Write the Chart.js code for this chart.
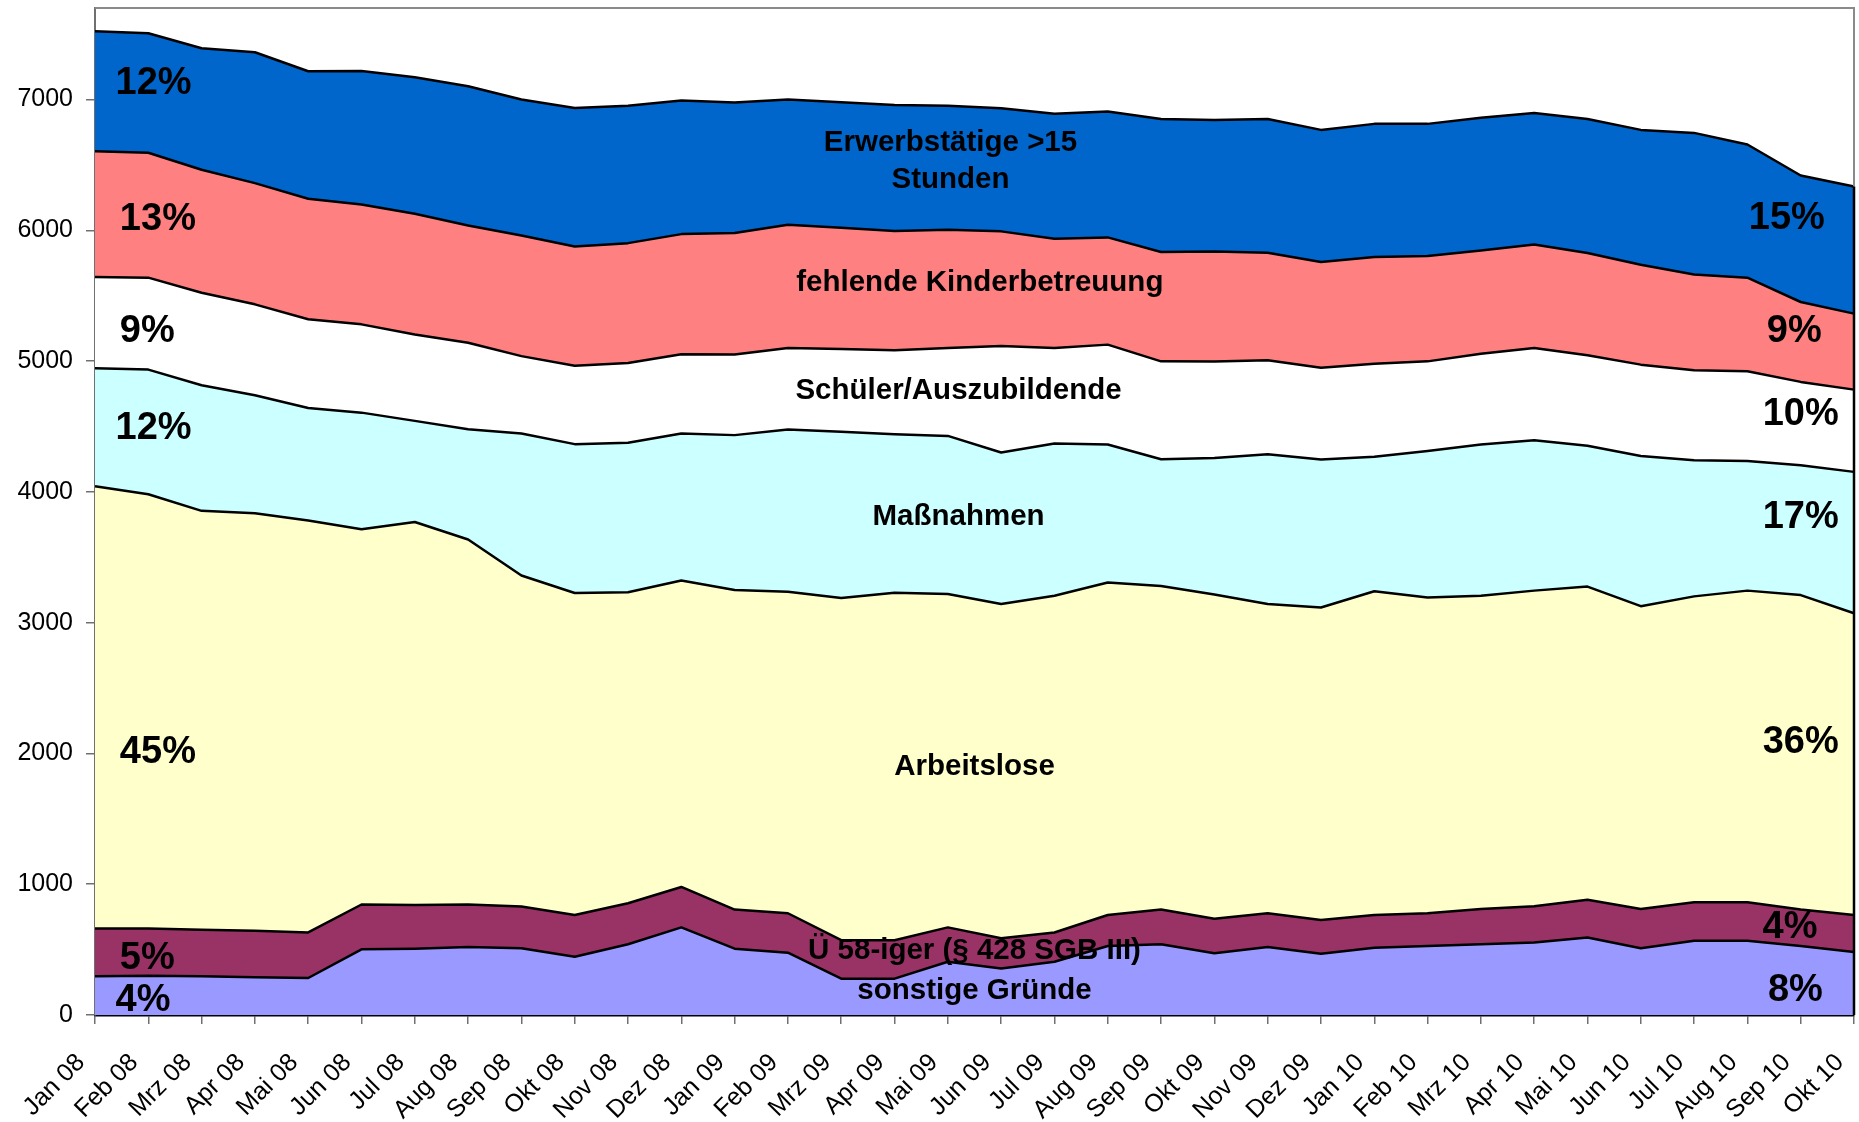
<!DOCTYPE html>
<html>
<head>
<meta charset="utf-8">
<script src="https://cdn.jsdelivr.net/npm/chart.js@4"></script>
<style>
  html, body { margin:0; padding:0; background:#fff; }
  #chart { display:block; }
</style>
</head>
<body>
<canvas id="chart" width="1859" height="1122"></canvas>
<script>
const months = ['Jan 08','Feb 08','Mrz 08','Apr 08','Mai 08','Jun 08','Jul 08','Aug 08','Sep 08','Okt 08','Nov 08','Dez 08',
  'Jan 09','Feb 09','Mrz 09','Apr 09','Mai 09','Jun 09','Jul 09','Aug 09','Sep 09','Okt 09','Nov 09','Dez 09',
  'Jan 10','Feb 10','Mrz 10','Apr 10','Mai 10','Jun 10','Jul 10','Aug 10','Sep 10','Okt 10'];

// values per group, bottom to top of the stack
const sonstige    = [296,301,296,288,283,502,507,520,510,446,541,670,507,476,278,278,407,355,407,528,541,472,520,469,515,528,541,554,592,510,567,567,528,482];
const ue58        = [366,361,356,356,348,343,335,325,319,319,314,309,299,302,294,294,263,232,224,237,265,264,258,257,250,250,270,278,289,301,296,296,278,283];
const arbeitslose = [3381,3320,3203,3193,3150,2869,2928,2791,2532,2462,2377,2343,2444,2459,2616,2657,2549,2555,2575,2542,2475,2480,2364,2390,2475,2415,2395,2413,2395,2315,2338,2382,2405,2307];
const massnahmen  = [902,953,960,902,861,892,773,843,1085,1138,1143,1124,1184,1240,1271,1212,1209,1159,1164,1055,969,1044,1146,1131,1028,1120,1156,1150,1076,1149,1041,992,993,1081];
const schueler    = [698,703,708,695,678,675,661,661,592,599,611,606,616,623,634,642,672,814,730,764,748,737,718,703,712,685,695,705,692,698,688,685,637,629];
const kinder      = [962,955,940,927,921,917,923,897,923,913,916,919,929,943,927,911,904,877,836,820,836,841,823,807,816,805,789,792,782,764,733,716,611,581];
const erwerb      = [917,914,929,1001,975,1021,1043,1065,1039,1059,1050,1021,998,957,960,965,948,942,955,962,1018,1005,1023,1011,1018,1011,1014,1006,1026,1031,1082,1018,967,972];

const seriesNames = ['sonstige Gründe','Ü 58-iger (§ 428 SGB III)','Arbeitslose','Maßnahmen','Schüler/Auszubildende','fehlende Kinderbetreuung','Erwerbstätige >15 Stunden'];
const seriesColors = ['#9999FF','#993366','#FFFFCC','#CCFFFF','#FFFFFF','#FF8080','#0066CC'];
const pctStart = ['4%','5%','45%','12%','9%','13%','12%'];
const pctEnd   = ['8%','4%','36%','17%','10%','9%','15%'];
const yTicks = [0,1000,2000,3000,4000,5000,6000,7000];

// text placed in the areas, in axis units (category index, value)
const nameLabels = [
  {t:'sonstige Gründe', x:16.5, y:186},
  {t:'Ü 58-iger (§ 428 SGB III)', x:16.5, y:489},
  {t:'Arbeitslose', x:16.5, y:1894},
  {t:'Maßnahmen', x:16.2, y:3811},
  {t:'Schüler/Auszubildende', x:16.2, y:4773},
  {t:'fehlende Kinderbetreuung', x:16.6, y:5602},
  {t:'Erwerbstätige >15', x:16.05, y:6672},
  {t:'Stunden', x:16.05, y:6389}
];
const pctPosStart = [{x:0.9,y:109},{x:0.98,y:430},{x:1.18,y:2010},{x:1.1,y:4485},{x:0.98,y:5227},{x:1.18,y:6083},{x:1.1,y:7122}];
const pctPosEnd   = [{x:31.9,y:190},{x:31.8,y:672},{x:32.0,y:2081},{x:32.0,y:3807},{x:32.0,y:4594},{x:31.88,y:5227},{x:31.74,y:6090}];

const stackData = [sonstige,ue58,arbeitslose,massnahmen,schueler,kinder,erwerb];
const datasets = stackData.map((d,i)=>({
  label: seriesNames[i],
  data: d,
  backgroundColor: seriesColors[i],
  borderColor: '#000',
  borderWidth: 2.5,
  pointRadius: 0,
  tension: 0,
  fill: i===0 ? 'origin' : '-1'
}));

const textPlugin = {
  id: 'areaText',
  afterDatasetsDraw(chart){
    const {ctx, chartArea:a, scales:{x,y}} = chart;
    const last = months.length - 1;
    const topLast = y.getPixelForValue(stackData.reduce((t,d)=>t+d[last],0));
    ctx.save();
    // plot frame: grey above the areas, black along the filled edge
    ctx.strokeStyle = '#8a8a8a'; ctx.lineWidth = 2;
    ctx.beginPath(); ctx.moveTo(a.left, a.top); ctx.lineTo(a.right, a.top); ctx.lineTo(a.right, topLast); ctx.stroke();
    ctx.strokeStyle = '#000'; ctx.lineWidth = 2.5;
    ctx.beginPath(); ctx.moveTo(a.right, topLast); ctx.lineTo(a.right, a.bottom); ctx.stroke();
    ctx.fillStyle = '#000';
    ctx.textAlign = 'center'; ctx.textBaseline = 'middle';
    ctx.font = 'bold 29.5px "Liberation Sans", Arial, sans-serif';
    nameLabels.forEach(l => ctx.fillText(l.t, x.getPixelForValue(l.x), y.getPixelForValue(l.y)));
    ctx.font = 'bold 38px "Liberation Sans", Arial, sans-serif';
    pctStart.forEach((p,i) => ctx.fillText(p, x.getPixelForValue(pctPosStart[i].x), y.getPixelForValue(pctPosStart[i].y)));
    pctEnd.forEach((p,i) => ctx.fillText(p, x.getPixelForValue(pctPosEnd[i].x), y.getPixelForValue(pctPosEnd[i].y)));
    ctx.restore();
  }
};

Chart.defaults.font.family = '"Liberation Sans", Arial, sans-serif';
Chart.defaults.color = '#000';

new Chart(document.getElementById('chart'), {
  type: 'line',
  data: { labels: months, datasets },
  options: {
    responsive: false,
    devicePixelRatio: 1,
    animation: false,
    layout: { padding: { left: 0, right: 5, top: 8, bottom: 0 } },
    plugins: { legend: { display: false }, tooltip: { enabled: false } },
    elements: { line: { borderJoinStyle: 'round' } },
    scales: {
      x: {
        z: 1,
        offset: false,
        grid: { display: true, drawOnChartArea: false, drawTicks: true, tickLength: 9, color: '#707070', lineWidth: 1.5 },
        border: { display: true, color: '#000', width: 2.5 },
        ticks: { autoSkip: false, maxRotation: 45, minRotation: 45, padding: 24, labelOffset: -14, font: { size: 25 } },
        afterFit(s){ s.height = 107; s.paddingLeft = 0; s.paddingRight = 0; }
      },
      y: {
        z: 1,
        stacked: true,
        min: 0, max: 7700,
        grid: { display: true, drawOnChartArea: false, drawTicks: true, tickLength: 9, color: '#707070', lineWidth: 1.5 },
        border: { display: true, color: '#707070', width: 2 },
        ticks: { stepSize: 1000, padding: 13, font: { size: 25 }, callback: v => String(v) },
        afterBuildTicks(s){ s.ticks = yTicks.map(v => ({value: v})); },
        afterFit(s){ s.width = 95; s.paddingTop = 0; s.paddingBottom = 0; }
      }
    }
  },
  plugins: [textPlugin]
});
</script>
</body>
</html>
